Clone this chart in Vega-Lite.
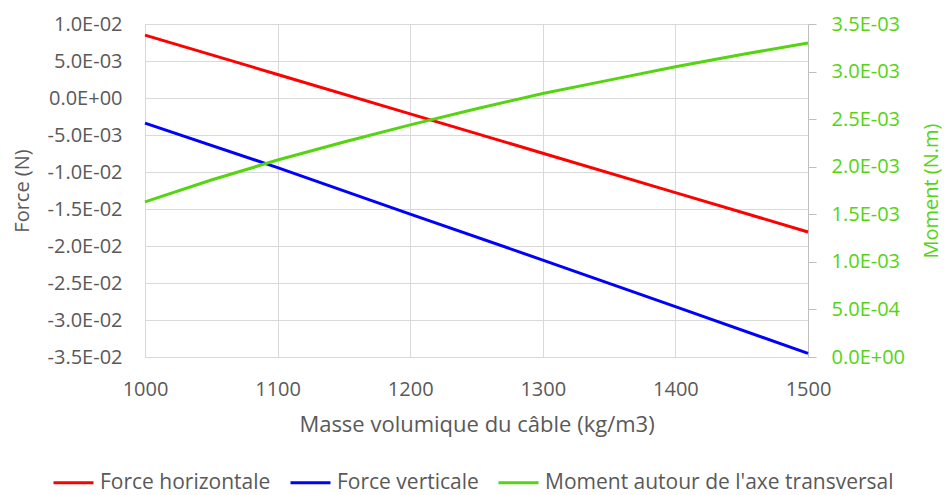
{
  "$schema": "https://vega.github.io/schema/vega-lite/v6.json",
  "width": 663,
  "height": 333,
  "autosize": "none",
  "padding": {"left": 145, "top": 24, "right": 136, "bottom": 138},
  "background": "white",
  "config": {
    "view": {"stroke": null},
    "font": "Open Sans",
    "axis": {"labelFont": "Open Sans", "titleFont": "Open Sans", "labelFontSize": 20, "titleFontSize": 20, "titleFontWeight": "normal", "labelColor": "#595959", "titleColor": "#595959"}
  },
  "data": {
    "values": [
      {"rho": 1000, "serie": "Force horizontale", "v": 0.0085},
      {"rho": 1100, "serie": "Force horizontale", "v": 0.00318},
      {"rho": 1200, "serie": "Force horizontale", "v": -0.00214},
      {"rho": 1300, "serie": "Force horizontale", "v": -0.00746},
      {"rho": 1400, "serie": "Force horizontale", "v": -0.01278},
      {"rho": 1500, "serie": "Force horizontale", "v": -0.0181},
      {"rho": 1000, "serie": "Force verticale", "v": -0.0034},
      {"rho": 1100, "serie": "Force verticale", "v": -0.0094},
      {"rho": 1200, "serie": "Force verticale", "v": -0.0157},
      {"rho": 1300, "serie": "Force verticale", "v": -0.0219},
      {"rho": 1400, "serie": "Force verticale", "v": -0.0282},
      {"rho": 1500, "serie": "Force verticale", "v": -0.0345},
      {"rho": 1000, "serie": "Moment autour de l'axe transversal", "v": 0.00163},
      {"rho": 1050, "serie": "Moment autour de l'axe transversal", "v": 0.00186},
      {"rho": 1100, "serie": "Moment autour de l'axe transversal", "v": 0.00207},
      {"rho": 1150, "serie": "Moment autour de l'axe transversal", "v": 0.00226},
      {"rho": 1200, "serie": "Moment autour de l'axe transversal", "v": 0.00244},
      {"rho": 1250, "serie": "Moment autour de l'axe transversal", "v": 0.00261},
      {"rho": 1300, "serie": "Moment autour de l'axe transversal", "v": 0.00277},
      {"rho": 1350, "serie": "Moment autour de l'axe transversal", "v": 0.00291},
      {"rho": 1400, "serie": "Moment autour de l'axe transversal", "v": 0.00305},
      {"rho": 1450, "serie": "Moment autour de l'axe transversal", "v": 0.00318},
      {"rho": 1500, "serie": "Moment autour de l'axe transversal", "v": 0.0033}
    ]
  },
  "layer": [
    {
      "transform": [{"filter": "indexof(datum.serie, 'Moment') != 0"}],
      "mark": {"type": "line", "strokeWidth": 3},
      "encoding": {
        "x": {
          "field": "rho", "type": "quantitative",
          "scale": {"domain": [1000, 1500], "nice": false, "zero": false},
          "axis": {
            "values": [1000, 1100, 1200, 1300, 1400, 1500],
            "format": "d",
            "title": "Masse volumique du câble (kg/m3)",
            "grid": true, "gridColor": "#d9d9d9", "domainColor": "#d9d9d9",
            "ticks": false, "labelPadding": 22, "labelFlush": false, "labelOverlap": false,
            "titleFontSize": 22,
            "titleY": 67, "titleBaseline": "middle"
          }
        },
        "y": {
          "field": "v", "type": "quantitative",
          "scale": {"domain": [-0.035, 0.01], "nice": false, "zero": false},
          "axis": {
            "values": [-0.035, -0.03, -0.025, -0.02, -0.015, -0.01, -0.005, 0, 0.005, 0.01],
            "labelExpr": "datum.value == 0 ? '0.0E+00' : (datum.value < 0 ? '-' : '') + format(abs(datum.value) / pow(10, floor(log(abs(datum.value)) / LN10 + 1e-9)), '.1f') + 'E' + (floor(log(abs(datum.value)) / LN10 + 1e-9) < 0 ? '-' : '+') + format(abs(floor(log(abs(datum.value)) / LN10 + 1e-9)), '02d')",
            "title": "Force (N)",
            "grid": true, "gridColor": "#d9d9d9", "domainColor": "#d9d9d9",
            "ticks": false, "labelPadding": 23, "labelOverlap": false,
            "titleX": -123, "titleY": 166.5, "titleAngle": -90, "titleAlign": "center", "titleBaseline": "middle"
          }
        },
        "color": {
          "field": "serie", "type": "nominal",
          "scale": {
            "domain": ["Force horizontale", "Force verticale", "Moment autour de l'axe transversal"],
            "range": ["#ff0000", "#0000ff", "#55d411"]
          },
          "legend": {
            "orient": "none", "legendX": -93, "legendY": 437, "direction": "horizontal",
            "padding": 0, "labelLimit": 500,
            "title": null, "symbolType": "stroke", "symbolSize": 1600, "symbolStrokeWidth": 3,
            "labelFont": "Open Sans", "labelFontSize": 21, "labelColor": "#595959",
            "columnPadding": 13, "labelOffset": 5
          }
        }
      }
    },
    {
      "transform": [{"filter": "indexof(datum.serie, 'Moment') == 0"}],
      "mark": {"type": "line", "strokeWidth": 3},
      "encoding": {
        "x": {"field": "rho", "type": "quantitative"},
        "y": {
          "field": "v", "type": "quantitative",
          "scale": {"domain": [0, 0.0035], "nice": false, "zero": false},
          "axis": {
            "orient": "right",
            "values": [0, 0.0005, 0.001, 0.0015, 0.002, 0.0025, 0.003, 0.0035],
            "labelExpr": "datum.value == 0 ? '0.0E+00' : (datum.value < 0 ? '-' : '') + format(abs(datum.value) / pow(10, floor(log(abs(datum.value)) / LN10 + 1e-9)), '.1f') + 'E' + (floor(log(abs(datum.value)) / LN10 + 1e-9) < 0 ? '-' : '+') + format(abs(floor(log(abs(datum.value)) / LN10 + 1e-9)), '02d')",
            "title": "Moment (N.m)",
            "grid": false, "domainColor": "#bfbfbf",
            "ticks": true, "tickSize": 8, "tickColor": "#bfbfbf",
            "labelPadding": 15, "labelOverlap": false, "labelColor": "#55d411", "titleColor": "#55d411",
            "titleX": 123.4, "titleY": 166.5, "titleAngle": -90, "titleAlign": "center", "titleBaseline": "middle"
          }
        },
        "color": {"field": "serie", "type": "nominal"}
      }
    }
  ],
  "resolve": {"scale": {"y": "independent"}}
}
